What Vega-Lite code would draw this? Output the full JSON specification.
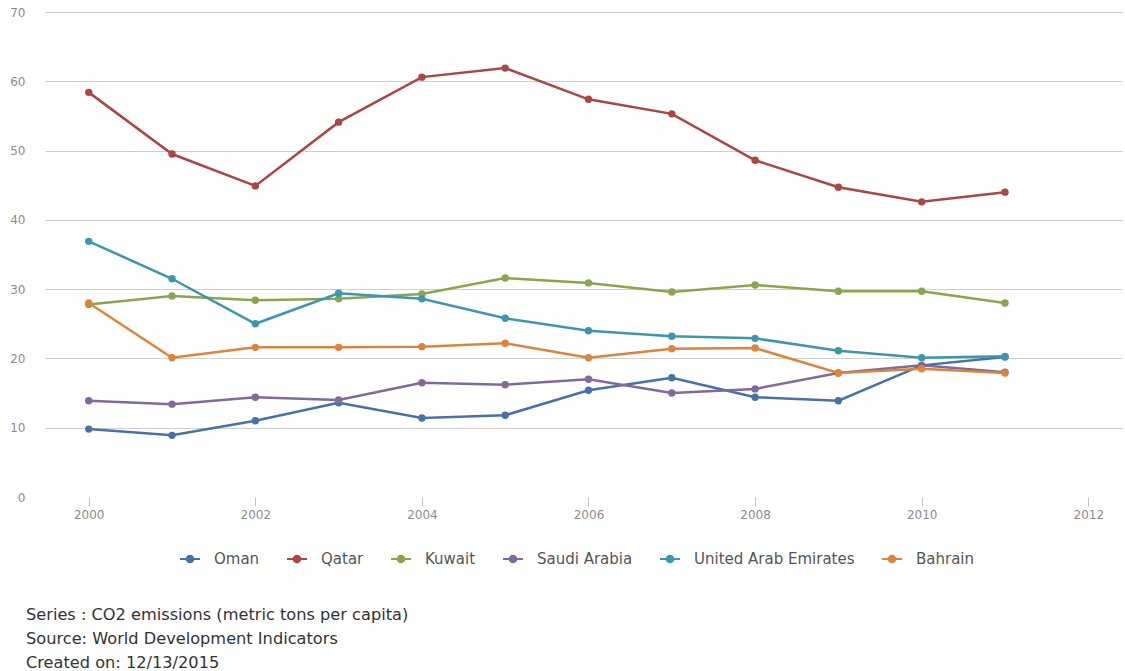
{
  "$schema": "https://vega.github.io/schema/vega-lite/v6.json",
  "autosize": "none",
  "width": 1077,
  "height": 485,
  "padding": {"left": 45, "top": 12, "right": 3, "bottom": 174},
  "background": "#ffffff",
  "config": {
    "view": {"stroke": null},
    "font": "DejaVu Sans"
  },
  "title": {
    "text": ["Series : CO2 emissions (metric tons per capita)", "Source: World Development Indicators", "Created on: 12/13/2015"],
    "orient": "bottom",
    "anchor": "start",
    "frame": "group",
    "font": "DejaVu Sans",
    "fontSize": 16.2,
    "fontWeight": "normal",
    "color": "#333333",
    "lineHeight": 24,
    "dx": -19,
    "offset": 40
  },
  "data": {
    "values": [
      {"country": "Oman", "year": 2000, "co2": 9.8},
      {"country": "Oman", "year": 2001, "co2": 8.9},
      {"country": "Oman", "year": 2002, "co2": 11.0},
      {"country": "Oman", "year": 2003, "co2": 13.6},
      {"country": "Oman", "year": 2004, "co2": 11.4},
      {"country": "Oman", "year": 2005, "co2": 11.8},
      {"country": "Oman", "year": 2006, "co2": 15.4},
      {"country": "Oman", "year": 2007, "co2": 17.2},
      {"country": "Oman", "year": 2008, "co2": 14.4},
      {"country": "Oman", "year": 2009, "co2": 13.9},
      {"country": "Oman", "year": 2010, "co2": 19.0},
      {"country": "Oman", "year": 2011, "co2": 20.2},
      {"country": "Qatar", "year": 2000, "co2": 58.4},
      {"country": "Qatar", "year": 2001, "co2": 49.5},
      {"country": "Qatar", "year": 2002, "co2": 44.9},
      {"country": "Qatar", "year": 2003, "co2": 54.1},
      {"country": "Qatar", "year": 2004, "co2": 60.6},
      {"country": "Qatar", "year": 2005, "co2": 61.9},
      {"country": "Qatar", "year": 2006, "co2": 57.4},
      {"country": "Qatar", "year": 2007, "co2": 55.3},
      {"country": "Qatar", "year": 2008, "co2": 48.6},
      {"country": "Qatar", "year": 2009, "co2": 44.7},
      {"country": "Qatar", "year": 2010, "co2": 42.6},
      {"country": "Qatar", "year": 2011, "co2": 44.0},
      {"country": "Kuwait", "year": 2000, "co2": 27.8},
      {"country": "Kuwait", "year": 2001, "co2": 29.0},
      {"country": "Kuwait", "year": 2002, "co2": 28.4},
      {"country": "Kuwait", "year": 2003, "co2": 28.6},
      {"country": "Kuwait", "year": 2004, "co2": 29.3},
      {"country": "Kuwait", "year": 2005, "co2": 31.6},
      {"country": "Kuwait", "year": 2006, "co2": 30.9},
      {"country": "Kuwait", "year": 2007, "co2": 29.6},
      {"country": "Kuwait", "year": 2008, "co2": 30.6},
      {"country": "Kuwait", "year": 2009, "co2": 29.7},
      {"country": "Kuwait", "year": 2010, "co2": 29.7},
      {"country": "Kuwait", "year": 2011, "co2": 28.0},
      {"country": "Saudi Arabia", "year": 2000, "co2": 13.9},
      {"country": "Saudi Arabia", "year": 2001, "co2": 13.4},
      {"country": "Saudi Arabia", "year": 2002, "co2": 14.4},
      {"country": "Saudi Arabia", "year": 2003, "co2": 14.0},
      {"country": "Saudi Arabia", "year": 2004, "co2": 16.5},
      {"country": "Saudi Arabia", "year": 2005, "co2": 16.2},
      {"country": "Saudi Arabia", "year": 2006, "co2": 17.0},
      {"country": "Saudi Arabia", "year": 2007, "co2": 15.0},
      {"country": "Saudi Arabia", "year": 2008, "co2": 15.6},
      {"country": "Saudi Arabia", "year": 2009, "co2": 17.9},
      {"country": "Saudi Arabia", "year": 2010, "co2": 19.0},
      {"country": "Saudi Arabia", "year": 2011, "co2": 18.0},
      {"country": "United Arab Emirates", "year": 2000, "co2": 36.9},
      {"country": "United Arab Emirates", "year": 2001, "co2": 31.5},
      {"country": "United Arab Emirates", "year": 2002, "co2": 25.0},
      {"country": "United Arab Emirates", "year": 2003, "co2": 29.4},
      {"country": "United Arab Emirates", "year": 2004, "co2": 28.6},
      {"country": "United Arab Emirates", "year": 2005, "co2": 25.8},
      {"country": "United Arab Emirates", "year": 2006, "co2": 24.0},
      {"country": "United Arab Emirates", "year": 2007, "co2": 23.2},
      {"country": "United Arab Emirates", "year": 2008, "co2": 22.9},
      {"country": "United Arab Emirates", "year": 2009, "co2": 21.1},
      {"country": "United Arab Emirates", "year": 2010, "co2": 20.1},
      {"country": "United Arab Emirates", "year": 2011, "co2": 20.3},
      {"country": "Bahrain", "year": 2000, "co2": 28.0},
      {"country": "Bahrain", "year": 2001, "co2": 20.1},
      {"country": "Bahrain", "year": 2002, "co2": 21.6},
      {"country": "Bahrain", "year": 2003, "co2": 21.6},
      {"country": "Bahrain", "year": 2004, "co2": 21.7},
      {"country": "Bahrain", "year": 2005, "co2": 22.2},
      {"country": "Bahrain", "year": 2006, "co2": 20.1},
      {"country": "Bahrain", "year": 2007, "co2": 21.4},
      {"country": "Bahrain", "year": 2008, "co2": 21.5},
      {"country": "Bahrain", "year": 2009, "co2": 17.9},
      {"country": "Bahrain", "year": 2010, "co2": 18.5},
      {"country": "Bahrain", "year": 2011, "co2": 17.9}
    ]
  },
  "encoding": {
    "x": {
      "field": "year",
      "type": "quantitative",
      "scale": {"domain": [1999.475, 2012.405], "nice": false, "zero": false},
      "axis": {
        "title": null,
        "values": [2000, 2002, 2004, 2006, 2008, 2010, 2012],
        "format": "d",
        "grid": false,
        "domain": false,
        "ticks": true,
        "tickSize": 9,
        "tickColor": "#c0c0c0",
        "tickWidth": 1,
        "labelFont": "DejaVu Sans",
        "labelFontSize": 12,
        "labelColor": "#8c8c8c",
        "labelPadding": 3
      }
    },
    "y": {
      "field": "co2",
      "type": "quantitative",
      "scale": {"domain": [0, 70], "nice": false},
      "axis": {
        "title": null,
        "values": [0, 10, 20, 30, 40, 50, 60, 70],
        "grid": true,
        "gridColor": {"condition": {"test": "datum.value === 0", "value": "transparent"}, "value": "#cfcfcf"},
        "gridWidth": 1,
        "domain": false,
        "ticks": false,
        "labelFont": "DejaVu Sans",
        "labelFontSize": 12,
        "labelColor": "#8c8c8c",
        "labelPadding": 20
      }
    },
    "color": {
      "field": "country",
      "type": "nominal",
      "scale": {
        "domain": ["Oman", "Qatar", "Kuwait", "Saudi Arabia", "United Arab Emirates", "Bahrain"],
        "range": ["#4572a7", "#aa4643", "#89a54e", "#80699b", "#3d96ae", "#db843d"]
      },
      "legend": {
        "title": null,
        "orient": "none",
        "direction": "horizontal",
        "legendX": 134,
        "legendY": 536,
        "columns": 6,
        "columnPadding": 23,
        "symbolType": "M-1,0H1M-0.33,0A0.33,0.33,0,1,0,0.33,0A0.33,0.33,0,1,0,-0.33,0Z",
        "symbolSize": 400,
        "symbolStrokeWidth": 2,
        "labelOffset": 13,
        "labelLimit": 400,
        "labelFont": "DejaVu Sans",
        "labelFontSize": 15,
        "labelColor": "#555555",
        "encode": {
          "symbols": {
            "update": {
              "fill": {"scale": "color", "field": "value"},
              "stroke": {"scale": "color", "field": "value"},
              "opacity": {"value": 1}
            }
          }
        }
      }
    }
  },
  "layer": [
    {"mark": {"type": "line", "strokeWidth": 2.5}},
    {"mark": {"type": "point", "filled": true, "size": 55, "opacity": 1}}
  ]
}
